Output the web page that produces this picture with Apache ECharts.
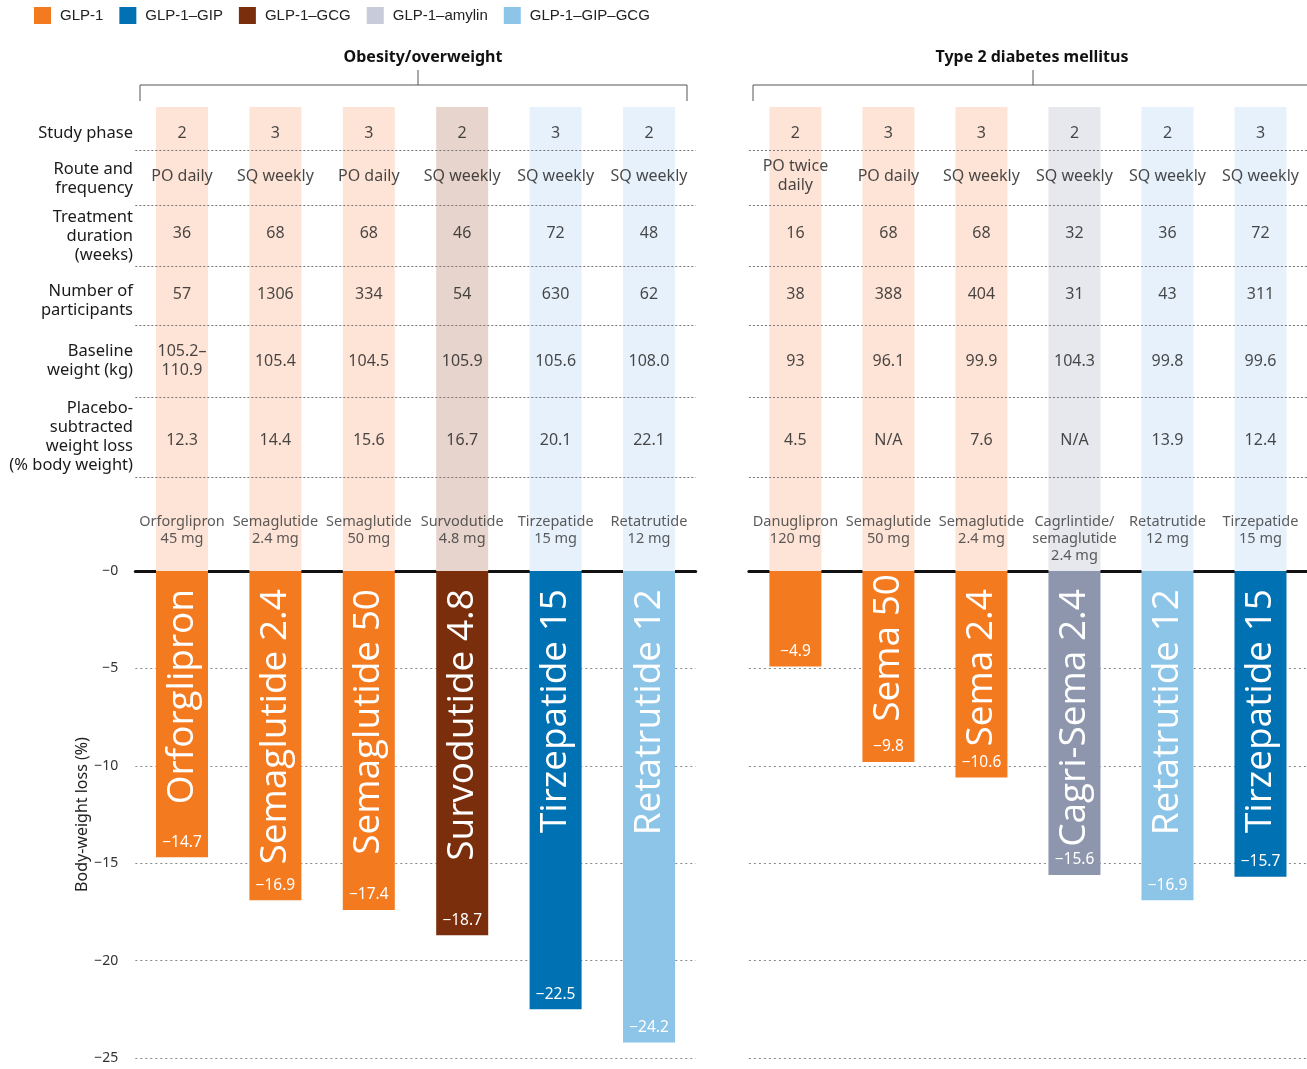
<!DOCTYPE html>
<html>
<head>
<meta charset="utf-8">
<script src="https://cdn.jsdelivr.net/npm/echarts/dist/echarts.min.js"></script>
<style>
  html, body { margin: 0; background: #fff; }
  #chart { width: 1307px; height: 1069px; }
</style>
</head>
<body>
<div id="chart"></div>
<script>
// drug classes (legend)
const classes = ['GLP-1', 'GLP-1–GIP', 'GLP-1–GCG', 'GLP-1–amylin', 'GLP-1–GIP–GCG']

// obesity / overweight panel
const obClass = ['GLP-1', 'GLP-1', 'GLP-1', 'GLP-1–GCG', 'GLP-1–GIP', 'GLP-1–GIP–GCG']
const obDrug = ['Orforglipron\n45 mg', 'Semaglutide\n2.4 mg', 'Semaglutide\n50 mg', 'Survodutide\n4.8 mg', 'Tirzepatide\n15 mg', 'Retatrutide\n12 mg']
const obBarName = ['Orforglipron', 'Semaglutide 2.4', 'Semaglutide 50', 'Survodutide 4.8', 'Tirzepatide 15', 'Retatrutide 12']
const obLoss = [-14.7, -16.9, -17.4, -18.7, -22.5, -24.2]
const obPhase = ['2', '3', '3', '2', '3', '2']
const obRoute = ['PO daily', 'SQ weekly', 'PO daily', 'SQ weekly', 'SQ weekly', 'SQ weekly']
const obWeeks = ['36', '68', '68', '46', '72', '48']
const obN = ['57', '1306', '334', '54', '630', '62']
const obBaseline = ['105.2–\n110.9', '105.4', '104.5', '105.9', '105.6', '108.0']
const obPlacebo = ['12.3', '14.4', '15.6', '16.7', '20.1', '22.1']

// type 2 diabetes panel
const dmClass = ['GLP-1', 'GLP-1', 'GLP-1', 'GLP-1–amylin', 'GLP-1–GIP–GCG', 'GLP-1–GIP']
const dmDrug = ['Danuglipron\n120 mg', 'Semaglutide\n50 mg', 'Semaglutide\n2.4 mg', 'Cagrlintide/\nsemaglutide\n2.4 mg', 'Retatrutide\n12 mg', 'Tirzepatide\n15 mg']
const dmBarName = ['', 'Sema 50', 'Sema 2.4', 'Cagri-Sema 2.4', 'Retatrutide 12', 'Tirzepatide 15']
const dmLoss = [-4.9, -9.8, -10.6, -15.6, -16.9, -15.7]
const dmPhase = ['2', '3', '3', '2', '2', '3']
const dmRoute = ['PO twice\ndaily', 'PO daily', 'SQ weekly', 'SQ weekly', 'SQ weekly', 'SQ weekly']
const dmWeeks = ['16', '68', '68', '32', '36', '72']
const dmN = ['38', '388', '404', '31', '43', '311']
const dmBaseline = ['93', '96.1', '99.9', '104.3', '99.8', '99.6']
const dmPlacebo = ['4.5', 'N/A', '7.6', 'N/A', '13.9', '12.4']

const rowNames = ['Study phase', 'Route and\nfrequency', 'Treatment\nduration\n(weeks)', 'Number of\nparticipants', 'Baseline\nweight (kg)', 'Placebo-\nsubtracted\nweight loss\n(% body weight)']

const barColor = { 'GLP-1': '#f47a20', 'GLP-1–GIP': '#0071b2', 'GLP-1–GCG': '#7b2e0c', 'GLP-1–amylin': '#8d96ad', 'GLP-1–GIP–GCG': '#8cc5e8' }
const bandColor = { 'GLP-1': '#fde4d7', 'GLP-1–GIP': '#e7f1fb', 'GLP-1–GCG': '#e6d4cd', 'GLP-1–amylin': '#e7e8ed', 'GLP-1–GIP–GCG': '#e7f1fb' }
const legendColor = { 'GLP-1': '#f47a20', 'GLP-1–GIP': '#0071b2', 'GLP-1–GCG': '#7b2e0c', 'GLP-1–amylin': '#c7cbda', 'GLP-1–GIP–GCG': '#8cc5e8' }

// layout (pixels)
const TOP = 107, ZERO = 571
const rowY = [133, 176, 233, 294, 361, 440]
const rowLabelY = [133, 179, 236, 301, 361, 437]
const sepY = [150, 205, 266, 325, 397, 477]
const drugTop = 513
const panels = [
  { left: 135.3, width: 560.4 },
  { left: 748.9, width: 565.2 }
]
const FONT = 'Noto Sans'
// short bars need their name pushed up to leave room for the value
const nameDistance = { 'Sema 50': 3 }

const chart = echarts.init(document.getElementById('chart'))

function minus(v) {
  return '−' + Math.abs(v)
}

function tableCells(rows, drugs) {
  const data = []
  rows.forEach((row, r) => {
    row.forEach((txt, i) => {
      data.push({ value: [i, rowY[r] - TOP], name: txt })
    })
  })
  drugs.forEach((txt, i) => {
    data.push({
      value: [i, drugTop - TOP],
      name: txt,
      label: { verticalAlign: 'top', fontSize: 14.5, lineHeight: 17, color: '#333' }
    })
  })
  return data
}

const grids = []
const xAxes = []
const yAxes = []
panels.forEach(p => {
  grids.push({ left: p.left, width: p.width, top: TOP, height: ZERO - TOP })
  grids.push({ left: p.left, width: p.width, top: ZERO, height: 487 })
})
const cats = ['0', '1', '2', '3', '4', '5']
for (let g = 0; g < 4; g++) {
  const isBar = g % 2 === 1
  xAxes.push({
    type: 'category', gridIndex: g, data: cats,
    show: isBar, position: 'top',
    axisLine: { onZero: false, lineStyle: { color: '#111', width: 3 } },
    axisTick: { show: true, alignWithLabel: true, length: 8, lineStyle: { color: '#555', width: 1 } },
    axisLabel: { show: false }
  })
  if (isBar) {
    yAxes.push({
      type: 'value', gridIndex: g, min: -25, max: 0, interval: 5,
      name: g === 1 ? 'Body-weight loss (%)' : '',
      nameLocation: 'middle', nameGap: 44,
      nameTextStyle: { fontFamily: FONT, fontSize: 16, color: '#222' },
      axisLine: { show: false }, axisTick: { show: false },
      axisLabel: { show: g === 1, formatter: minus, margin: 17, fontFamily: FONT, fontSize: 14, color: '#333' },
      splitLine: { lineStyle: { type: [2, 3], color: '#888', width: 1 } }
    })
  } else {
    yAxes.push({ type: 'value', gridIndex: g, min: 0, max: ZERO - TOP, inverse: true, show: false, splitLine: { show: false } })
  }
}

const series = []
const panelData = [
  { cls: obClass, loss: obLoss, names: obBarName, rows: [obPhase, obRoute, obWeeks, obN, obBaseline, obPlacebo], drugs: obDrug },
  { cls: dmClass, loss: dmLoss, names: dmBarName, rows: [dmPhase, dmRoute, dmWeeks, dmN, dmBaseline, dmPlacebo], drugs: dmDrug }
]
panelData.forEach((d, k) => {
  const tg = k * 2, bg = k * 2 + 1
  // light column bands behind the table
  series.push({
    type: 'bar', xAxisIndex: tg, yAxisIndex: tg, barWidth: 52, silent: true,
    data: d.cls.map(c => ({ value: ZERO - TOP, itemStyle: { color: bandColor[c] } })),
    markLine: {
      silent: true, symbol: 'none', label: { show: false },
      lineStyle: { type: [2, 2], color: '#777', width: 1 },
      data: sepY.map(y => ({ yAxis: y - TOP }))
    }
  })
  // table text
  series.push({
    type: 'scatter', xAxisIndex: tg, yAxisIndex: tg, symbolSize: 1, silent: true,
    itemStyle: { color: 'rgba(0,0,0,0)' },
    label: {
      show: true, position: 'inside', formatter: '{b}',
      fontFamily: FONT, fontSize: 16, lineHeight: 19, color: '#1a1a1a', align: 'center', verticalAlign: 'middle'
    },
    data: tableCells(d.rows, d.drugs)
  })
  // weight-loss bars
  series.push({
    type: 'bar', xAxisIndex: bg, yAxisIndex: bg, barWidth: 52, barGap: '-100%',
    data: d.loss.map((v, i) => ({ value: v, itemStyle: { color: barColor[d.cls[i]] } })),
    label: {
      show: true, position: 'insideBottom', distance: 7, formatter: p => minus(p.value),
      fontFamily: FONT, fontSize: 15.5, color: '#fff'
    }
  })
  // names written up the bars
  series.push({
    type: 'bar', xAxisIndex: bg, yAxisIndex: bg, barWidth: 52, barGap: '-100%', silent: true,
    itemStyle: { color: 'rgba(0,0,0,0)' },
    data: d.loss.map((v, i) => ({
      value: v, name: d.names[i],
      label: { distance: nameDistance[d.names[i]] ?? 18 }
    })),
    label: {
      show: true, position: 'insideTop', rotate: 90,
      align: 'right', verticalAlign: 'middle', formatter: '{b}',
      fontFamily: 'Open Sans', fontSize: 37, color: '#fff'
    }
  })
})
// legend entries
classes.forEach(c => {
  series.push({ type: 'scatter', name: c, xAxisIndex: 1, yAxisIndex: 1, data: [], itemStyle: { color: legendColor[c], opacity: 1 } })
})

const graphics = []
rowNames.forEach((t, r) => {
  graphics.push({
    type: 'text', x: 133, y: rowLabelY[r],
    style: { text: t, textAlign: 'right', textVerticalAlign: 'middle', font: '16.5px "Noto Sans"', lineHeight: 19, fill: '#1a1a1a' }
  })
})
graphics.push(
  { type: 'text', x: 423, y: 57, style: { text: 'Obesity/overweight', textAlign: 'center', textVerticalAlign: 'middle', font: 'bold 16px "Noto Sans"', fill: '#111' } },
  { type: 'text', x: 1032, y: 57, style: { text: 'Type 2 diabetes mellitus', textAlign: 'center', textVerticalAlign: 'middle', font: 'bold 16px "Noto Sans"', fill: '#111' } },
  { type: 'polyline', shape: { points: [[140, 101], [140, 85], [687, 85], [687, 101]] }, style: { stroke: '#555', lineWidth: 1, fill: null } },
  { type: 'line', shape: { x1: 418, y1: 70, x2: 418, y2: 85 }, style: { stroke: '#555', lineWidth: 1 } },
  { type: 'polyline', shape: { points: [[753, 101], [753, 85], [1307, 85]] }, style: { stroke: '#555', lineWidth: 1, fill: null } },
  { type: 'line', shape: { x1: 1033, y1: 70, x2: 1033, y2: 85 }, style: { stroke: '#555', lineWidth: 1 } }
)

chart.setOption({
  animation: false,
  backgroundColor: '#fff',
  legend: {
    data: classes, left: 29, top: 2, icon: 'rect', itemWidth: 17, itemHeight: 17, itemGap: 16,
    textStyle: { fontFamily: 'Liberation Sans', fontSize: 15, color: '#222', padding: [0, 0, 0, 4] },
    selectedMode: false
  },
  grid: grids,
  xAxis: xAxes,
  yAxis: yAxes,
  series: series,
  graphic: graphics
})
</script>
</body>
</html>
